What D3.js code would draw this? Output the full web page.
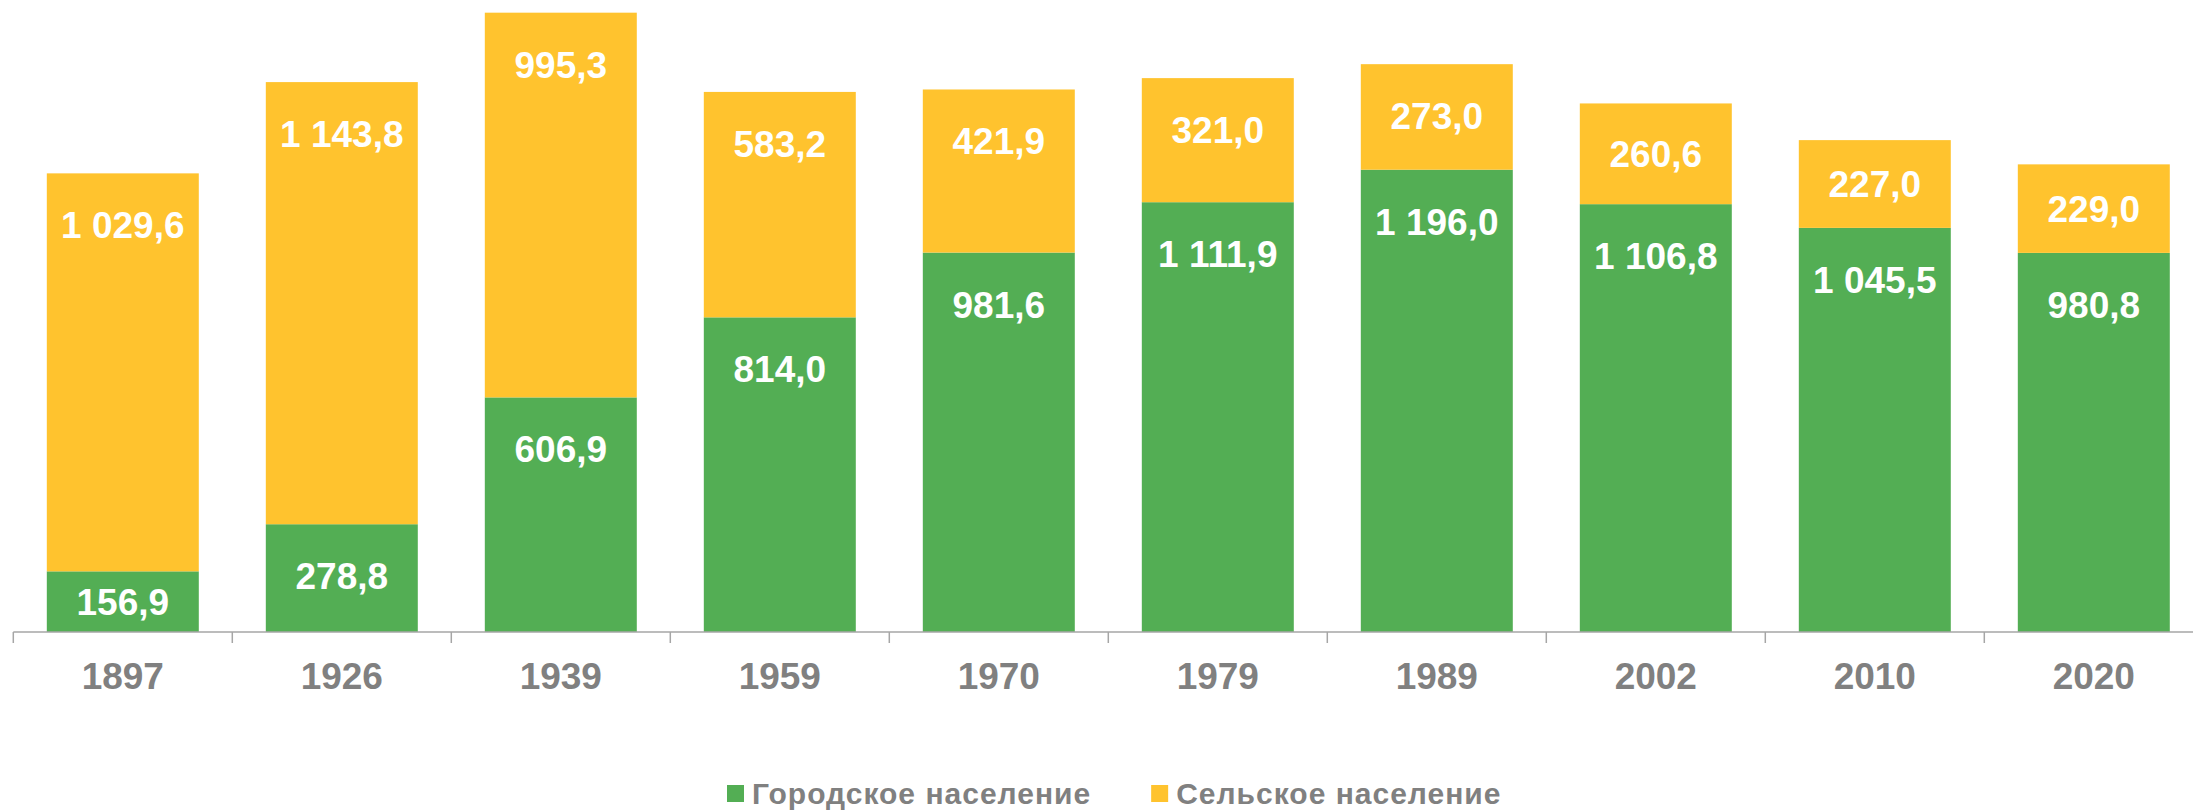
<!DOCTYPE html>
<html>
<head>
<meta charset="utf-8">
<script src="https://cdn.jsdelivr.net/npm/d3@7"></script>
<style>
  body { margin: 0; background: #fff; }
  svg text { font-family: "Liberation Sans", Arial, sans-serif; font-weight: bold; }
</style>
</head>
<body>
<div id="main"></div>
<script>
const YEARS = ["1897", "1926", "1939", "1959", "1970", "1979", "1989", "2002", "2010", "2020"];
const URBAN = [156.9, 278.8, 606.9, 814.0, 981.6, 1111.9, 1196.0, 1106.8, 1045.5, 980.8];
const RURAL = [1029.6, 1143.8, 995.3, 583.2, 421.9, 321.0, 273.0, 260.6, 227.0, 229.0];
const SERIES = ["Городское население", "Сельское население"];
const COLORS = ["#53ae54", "#ffc32e"];

const width = 2193, height = 812;
const baseY = 632;

const svg = d3.select('#main')
  .append('svg')
  .attr('width', width)
  .attr('height', height);

const x = d3.scaleBand()
  .domain(YEARS)
  .range([13.3, 13.3 + 219 * YEARS.length])
  .paddingInner(0.306)
  .paddingOuter(0.153);

const y = d3.scaleLinear()
  .domain([0, 1635])
  .range([baseY, 0]);

const rows = YEARS.map((yr, i) => ({ year: yr, urban: URBAN[i], rural: RURAL[i] }));
const stack = d3.stack().keys(["urban", "rural"])(rows);

const fmt = v => {
  const s = d3.format(",.1f")(v);
  return s.replace(/,/g, " ").replace(".", ",");
};

const layer = svg.selectAll('g.layer')
  .data(stack)
  .enter().append('g')
  .attr('class', 'layer')
  .attr('fill', (d, i) => COLORS[i]);

layer.selectAll('rect')
  .data(d => d)
  .enter().append('rect')
  .attr('x', d => x(d.data.year))
  .attr('y', d => y(d[1]))
  .attr('width', x.bandwidth())
  .attr('height', d => y(d[0]) - y(d[1]));

// value labels, near the top of each segment
layer.selectAll('text')
  .data((d) => d.map(p => ({ p: p, key: d.key })))
  .enter().append('text')
  .attr('x', d => x(d.p.data.year) + x.bandwidth() / 2)
  .attr('y', d => {
    const top = y(d.p[1]);
    const h = y(d.p[0]) - top;
    return top + Math.min(52, h / 2) + 13;
  })
  .attr('text-anchor', 'middle')
  .attr('fill', '#fff')
  .style('font-size', '37px')
  .text(d => fmt(d.p.data[d.key]));

// axis line with ticks at category boundaries
const axis = svg.append('g').attr('transform', `translate(0,${baseY})`);
axis.append('line')
  .attr('x1', x.range()[0])
  .attr('x2', x.range()[1])
  .attr('stroke', '#a6a6a6')
  .attr('stroke-width', 1.5);

axis.selectAll('line.tick')
  .data(d3.range(YEARS.length + 1))
  .enter().append('line')
  .attr('class', 'tick')
  .attr('x1', i => x.range()[0] + i * x.step())
  .attr('x2', i => x.range()[0] + i * x.step())
  .attr('y1', 0)
  .attr('y2', 11)
  .attr('stroke', '#a6a6a6')
  .attr('stroke-width', 1.5);

axis.selectAll('text')
  .data(YEARS)
  .enter().append('text')
  .attr('x', d => x(d) + x.bandwidth() / 2)
  .attr('y', 57)
  .attr('text-anchor', 'middle')
  .attr('fill', '#808080')
  .style('font-size', '37px')
  .text(d => d);

// legend
const legend = svg.append('g').attr('transform', 'translate(727,0)');
let lx = 0;
SERIES.forEach((name, i) => {
  const g = legend.append('g').attr('transform', `translate(${lx},0)`);
  g.append('rect')
    .attr('x', 0)
    .attr('y', 785)
    .attr('width', 17)
    .attr('height', 17)
    .attr('fill', COLORS[i]);
  const t = g.append('text')
    .attr('x', 25)
    .attr('y', 804)
    .attr('fill', '#808080')
    .style('font-size', '30px')
    .style('letter-spacing', '1px')
    .text(name);
  const w = t.node().getComputedTextLength();
  lx += 25 + w + 60;
});
</script>
</body>
</html>
